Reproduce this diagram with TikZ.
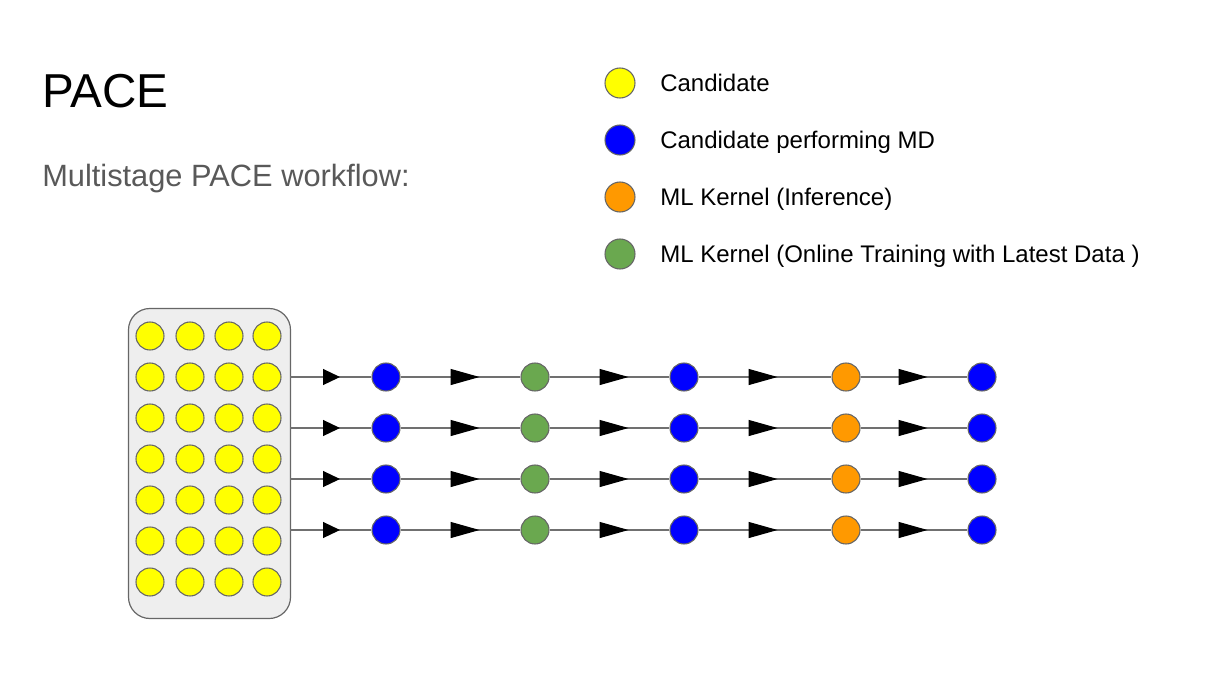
\documentclass[tikz,border=0pt]{standalone}
\usepackage{fontspec}
\setmainfont{Liberation Sans}
\usetikzlibrary{arrows.meta,decorations.markings}
\definecolor{candY}{HTML}{FFFF00}
\definecolor{mdB}{HTML}{0000FF}
\definecolor{infO}{HTML}{FF9900}
\definecolor{trnG}{HTML}{6AA84F}
\definecolor{rim}{HTML}{666666}
\definecolor{wire}{HTML}{707070}
\definecolor{boxfill}{HTML}{EEEEEE}
\definecolor{subgray}{HTML}{595959}
\begin{document}
\begin{tikzpicture}[x=0.75pt,y=-0.75pt,
  dot/.style={circle,draw=rim,line width=0.8pt,minimum size=21pt,inner sep=0pt},
  legdot/.style={circle,draw=rim,line width=0.8pt,minimum size=22.5pt,inner sep=0pt},
  legtext/.style={anchor=base west,inner sep=0pt,font=\fontsize{18}{21}\selectfont},
  flow/.style n args={2}{draw=wire,line width=0.9pt,postaction={decorate},
    decoration={markings,mark=at position #1 with {\arrow{Triangle[length=#2,width=12pt,color=black,fill=black]}}}},
  ]
\useasboundingbox (0,0) rectangle (1219,689);
% titles
\node[anchor=base west,inner sep=0pt,font=\fontsize{35.7}{42}\selectfont] (title) at (42,107) {PACE};
\node[anchor=base west,inner sep=0pt,text=subgray,font=\fontsize{23.1}{28}\selectfont] (sub) at (42,186) {Multistage PACE workflow:};
% legend
\node[legdot,fill=candY] (l1) at (620,83) {};
\node[legdot,fill=mdB] (l2) at (620,140) {};
\node[legdot,fill=infO] (l3) at (620,197) {};
\node[legdot,fill=trnG] (l4) at (620,254) {};
\node[legtext] (t1) at (660,91.5) {Candidate};
\node[legtext] (t2) at (660,148.5) {Candidate performing MD};
\node[legtext] (t3) at (660,205.5) {ML Kernel (Inference)};
\node[legtext] (t4) at (660,262.5) {ML Kernel (Online Training with Latest Data )};
% candidate box
\node[draw=rim,fill=boxfill,line width=0.9pt,rounded corners=16pt,minimum width=121.5pt,minimum height=232.5pt,inner sep=0pt] (box) at (209.5,463.5) {};
\foreach \r/\y in {1/336,2/377,3/418,4/459,5/500,6/541,7/582}{
  \foreach \c/\x in {1/150,2/190,3/229,4/267}{
    \node[dot,fill=candY] (y\r\c) at (\x,\y) {};
  }
}
% chains
\foreach \k/\y in {1/377,2/428,3/479,4/530}{
  \coordinate (s\k) at (290,\y);
  \node[dot,fill=mdB] (a\k) at (386,\y) {};
  \node[dot,fill=trnG] (b\k) at (535,\y) {};
  \node[dot,fill=mdB] (c\k) at (684,\y) {};
  \node[dot,fill=infO] (d\k) at (846,\y) {};
  \node[dot,fill=mdB] (e\k) at (982,\y) {};
  \path[flow={37.5pt}{12.75pt}] (s\k) -- (a\k);
  \path[flow={59.25pt}{21.75pt}] (a\k) -- (b\k);
  \path[flow={59.25pt}{21.75pt}] (b\k) -- (c\k);
  \path[flow={59.25pt}{21.75pt}] (c\k) -- (d\k);
  \path[flow={50.25pt}{21.75pt}] (d\k) -- (e\k);
}
\end{tikzpicture}
\end{document}
